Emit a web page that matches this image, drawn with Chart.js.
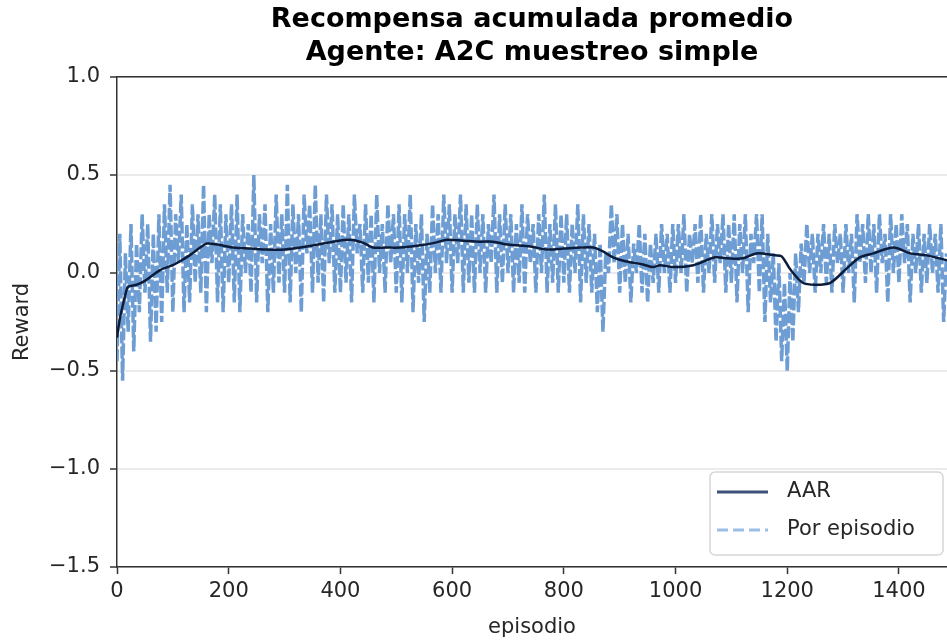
<!DOCTYPE html>
<html>
<head>
<meta charset="utf-8">
<title>Recompensa acumulada promedio</title>
<script src="https://cdn.jsdelivr.net/npm/chart.js@4.4.0/dist/chart.umd.min.js"></script>
<style>
  html, body { margin: 0; padding: 0; background: #fff; }
  #wrap { width: 947px; height: 640px; }
</style>
</head>
<body>
<div id="wrap"><canvas id="chart" width="947" height="640"></canvas></div>
<script>
// reward per episode, one value every 5 episodes
const episodeStep = 5;
const perEpisode = [
  -0.45, 0.2, -0.55, 0.1, -0.3, 0.25, -0.4, 0.15, -0.2, 0.3,
  -0.1, 0.25, -0.35, 0.2, -0.3, 0.3, -0.25, 0.35, -0.1, 0.45,
  -0.2, 0.3, 0.05, 0.4, -0.2, 0.25, -0.15, 0.35, -0.05, 0.3,
  -0.1, 0.45, -0.2, 0.3, 0.05, 0.4, -0.15, 0.35, -0.2, 0.3,
  -0.05, 0.35, -0.15, 0.4, -0.2, 0.3, 0.0, 0.25, -0.1, 0.5,
  -0.15, 0.3, 0.05, 0.35, -0.2, 0.25, -0.1, 0.4, -0.05, 0.3,
  -0.1, 0.45, -0.15, 0.35, 0.0, 0.3, -0.2, 0.4, 0.1, 0.35,
  -0.1, 0.45, -0.05, 0.3, -0.15, 0.4, 0.05, 0.35, -0.1, 0.3,
  -0.1, 0.35, -0.05, 0.3, -0.15, 0.4, 0.1, 0.25, -0.1, 0.35,
  -0.05, 0.3, -0.15, 0.4, 0.0, 0.25, -0.1, 0.35, 0.05, 0.3,
  -0.1, 0.35, -0.15, 0.3, 0.0, 0.4, -0.2, 0.25, -0.05, 0.3,
  -0.25, 0.2, -0.1, 0.35, 0.0, 0.3, -0.1, 0.4, 0.05, 0.35,
  -0.1, 0.3, 0.05, 0.4, -0.1, 0.35, -0.05, 0.3, -0.1, 0.35,
  0.0, 0.3, -0.1, 0.25, 0.05, 0.4, -0.1, 0.3, -0.05, 0.35,
  0.0, 0.3, -0.1, 0.25, -0.05, 0.35, -0.1, 0.3, 0.05, 0.25,
  -0.1, 0.3, 0.0, 0.4, -0.1, 0.25, -0.05, 0.35, -0.1, 0.3,
  -0.05, 0.3, -0.1, 0.25, 0.0, 0.35, -0.15, 0.3, -0.05, 0.25,
  -0.1, 0.2, -0.2, 0.15, -0.3, 0.1, 0.0, 0.35, 0.05, 0.3,
  -0.1, 0.25, -0.05, 0.2, -0.15, 0.15, 0.0, 0.25, -0.1, 0.2,
  -0.15, 0.15, -0.05, 0.2, -0.1, 0.25, 0.0, 0.2, -0.1, 0.25,
  -0.05, 0.25, 0.0, 0.3, -0.1, 0.2, 0.05, 0.25, -0.05, 0.3,
  -0.1, 0.2, 0.0, 0.3, -0.05, 0.25, 0.05, 0.3, -0.1, 0.25,
  -0.05, 0.3, -0.15, 0.25, 0.0, 0.3, -0.2, 0.2, 0.05, 0.3,
  -0.1, 0.3, -0.25, 0.2, -0.15, 0.1, -0.35, 0.05, -0.45, -0.05,
  -0.5, 0.0, -0.35, 0.1, -0.2, 0.15, -0.05, 0.25, 0.0, 0.2,
  -0.1, 0.2, 0.0, 0.25, -0.05, 0.2, -0.1, 0.25, 0.05, 0.2,
  -0.1, 0.25, 0.0, 0.2, -0.15, 0.3, 0.05, 0.25, -0.05, 0.3,
  0.0, 0.25, -0.1, 0.3, 0.05, 0.2, -0.15, 0.3, 0.0, 0.25,
  -0.05, 0.3, 0.05, 0.25, -0.15, 0.2, 0.0, 0.25, -0.1, 0.2,
  -0.05, 0.25, 0.0, 0.2, -0.1, 0.25, -0.25, 0.1
];

// average accumulated reward (smoothed curve)
const aarEpisodes = [0, 3, 6, 10, 15, 20, 35, 50, 77, 100, 113, 130, 149, 161, 180, 208, 240, 268, 300, 328,
  360, 387, 417, 440, 458, 480, 507, 540, 570, 591, 620, 650, 673, 700, 740, 770, 800, 830, 853, 870,
  888, 910, 940, 960, 972, 996, 1032, 1071, 1093, 1121, 1145, 1178, 1190, 1205, 1228, 1250, 1277, 1307, 1330, 1354,
  1390, 1420, 1450, 1486];
const aarValues = [-0.33, -0.27, -0.22, -0.17, -0.11, -0.07, -0.06, -0.04, 0.015, 0.04, 0.06, 0.09, 0.13, 0.15, 0.145, 0.13, 0.125, 0.12, 0.12, 0.13,
  0.145, 0.16, 0.17, 0.155, 0.13, 0.13, 0.13, 0.14, 0.155, 0.17, 0.165, 0.16, 0.16, 0.145, 0.135, 0.12, 0.125, 0.13, 0.13, 0.11,
  0.08, 0.06, 0.045, 0.03, 0.04, 0.03, 0.04, 0.08, 0.075, 0.075, 0.1, 0.09, 0.085, 0.02, -0.05, -0.06, -0.05, 0.025, 0.08, 0.1,
  0.13, 0.1, 0.09, 0.065];

const yTicks = [-1.5, -1.0, -0.5, 0.0, 0.5, 1.0];
const xMax = 1486;
const titleLines = ['Recompensa acumulada promedio', 'Agente: A2C muestreo simple'];

const fontFamily = "'DejaVu Sans', sans-serif";

const perEpisodePoints = perEpisode.map((v, i) => ({ x: i * episodeStep, y: v }));
const aarPoints = aarValues.map((v, i) => ({ x: aarEpisodes[i], y: v }));

// matplotlib style legend box in the lower right
const boxLegend = {
    id: 'boxLegend',
    afterDraw(chart) {
        const ctx = chart.ctx;
        const x0 = 710, y0 = 472, w = 233, h = 83;
        ctx.save();
        ctx.beginPath();
        ctx.roundRect(x0, y0, w, h, 5);
        ctx.fillStyle = 'rgba(255,255,255,0.85)';
        ctx.fill();
        ctx.strokeStyle = '#d6d6d6';
        ctx.lineWidth = 1.5;
        ctx.stroke();

        ctx.lineWidth = 3;
        ctx.strokeStyle = '#3d5279';
        ctx.beginPath();
        ctx.moveTo(717, 492);
        ctx.lineTo(768, 492);
        ctx.stroke();

        ctx.strokeStyle = '#9cbde6';
        ctx.setLineDash([11, 5]);
        ctx.beginPath();
        ctx.moveTo(717, 530);
        ctx.lineTo(768, 530);
        ctx.stroke();
        ctx.setLineDash([]);

        ctx.fillStyle = '#262626';
        ctx.font = '21px ' + fontFamily;
        ctx.textBaseline = 'middle';
        ctx.textAlign = 'left';
        ctx.fillText('AAR', 787, 492);
        ctx.fillText('Por episodio', 787, 530);
        ctx.restore();
    }
};

const ctx = document.getElementById('chart').getContext('2d');
window.myChart = new Chart(ctx, {
    type: 'line',
    data: {
        datasets: [{
            label: 'AAR',
            data: aarPoints,
            borderColor: '#0c1c3a',
            borderWidth: 2.5,
            pointRadius: 0,
            tension: 0.3,
            order: 0
        }, {
            label: 'Por episodio',
            data: perEpisodePoints,
            borderColor: '#6d9dd3',
            borderWidth: 3.5,
            borderDash: [12, 3],
            pointRadius: 0,
            tension: 0,
            order: 1
        }]
    },
    options: {
        responsive: false,
        animation: false,
        layout: { padding: 0 },
        plugins: {
            legend: { display: false },
            tooltip: { enabled: false },
            title: { display: false }
        },
        scales: {
            x: {
                type: 'linear',
                position: 'bottom',
                min: 0,
                max: xMax,
                afterFit: (s) => { s.height = 73; },
                ticks: {
                    stepSize: 200,
                    includeBounds: false,
                    color: '#262626',
                    padding: 5,
                    maxRotation: 0,
                    font: { family: fontFamily, size: 21 },
                    callback: (v) => String(v)
                },
                grid: {
                    drawOnChartArea: false,
                    tickColor: '#333',
                    tickLength: 7,
                    tickWidth: 1.5
                },
                border: { color: '#333', width: 1.5 },
                title: {
                    display: true,
                    text: 'episodio',
                    color: '#262626',
                    font: { family: fontFamily, size: 21 },
                    padding: { top: 0, bottom: 0 }
                }
            },
            // top spine, also carries the title so it is centred on the plot
            xTop: {
                type: 'linear',
                position: 'top',
                min: 0,
                max: xMax,
                afterFit: (s) => { s.height = 77; },
                ticks: { display: false },
                grid: { display: false, drawTicks: false },
                border: { display: true, color: '#333', width: 1.5 },
                title: {
                    display: true,
                    text: titleLines,
                    color: '#000',
                    font: { family: fontFamily, size: 27, weight: 'bold', lineHeight: 1.2 },
                    padding: { top: 4, bottom: 0 }
                }
            },
            y: {
                min: -1.5,
                max: 1.0,
                z: 1,
                afterFit: (s) => { s.width = 117; },
                afterBuildTicks: (s) => { s.ticks = yTicks.map(v => ({ value: v })); },
                ticks: {
                    color: '#262626',
                    padding: 10,
                    font: { family: fontFamily, size: 21 },
                    callback: (v) => Number(v).toFixed(1).replace('-', '\u2212')
                },
                grid: {
                    color: 'rgba(0,0,0,0.08)',
                    lineWidth: 2,
                    tickColor: '#333',
                    tickLength: 7,
                    tickWidth: 1.5
                },
                border: { color: '#333', width: 1.5 },
                title: {
                    display: true,
                    text: 'Reward',
                    color: '#262626',
                    font: { family: fontFamily, size: 21 },
                    padding: { top: 10, bottom: 0 }
                }
            }
        }
    },
    plugins: [boxLegend]
});
</script>
</body>
</html>
